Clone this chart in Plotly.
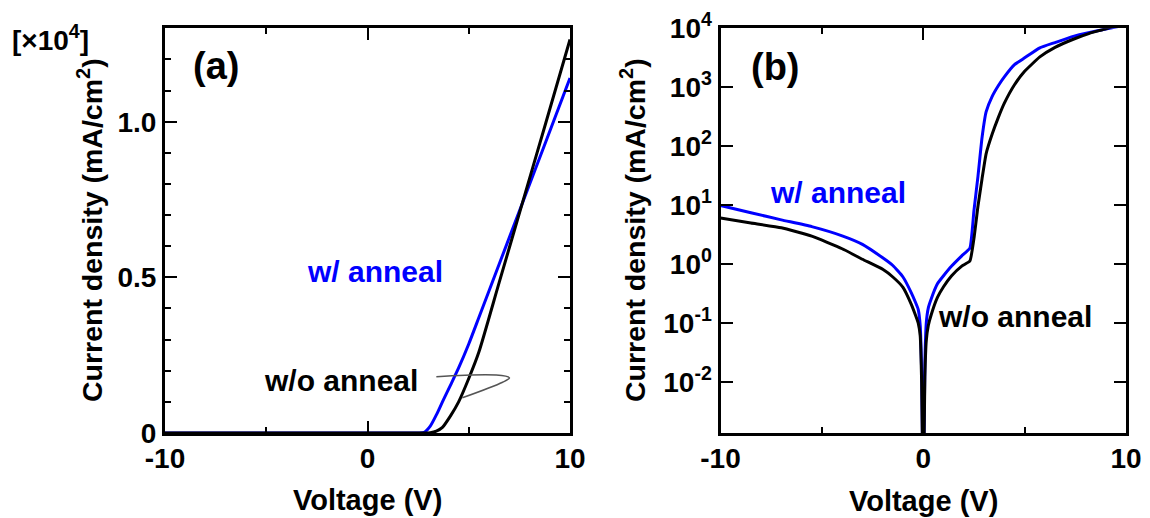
import plotly.graph_objects as go

# ---- (a) linear J-V data, current density in units of 1e4 mA/cm^2 ----
v_lin = [-10, 0, 2.5, 2.8, 3.1, 3.4, 3.7, 4.1, 4.5, 5.0, 5.5, 6.5, 7.6, 8.8, 10]
j_lin_anneal = [0, 0, 0, 0.002, 0.022, 0.058, 0.100, 0.154, 0.209, 0.286, 0.371,
                0.542, 0.730, 0.935, 1.140]
j_lin_noanneal = [0, 0, 0, 0, 0.001, 0.006, 0.018, 0.055, 0.100, 0.175, 0.260,
                  0.483, 0.728, 0.995, 1.264]

# ---- (b) semi-log |J|-V data, mA/cm^2 ----
v_log = [-10, -8.5, -7, -5.5, -4, -3, -2, -1.5, -1, -0.6, -0.4, -0.25, -0.15, -0.08,
         0, 0.08, 0.15, 0.25, 0.4, 0.7, 1.0, 1.4, 1.9, 2.3, 2.5, 2.7, 2.9, 3.1, 3.4,
         3.7, 4.0, 4.5, 5.0, 5.75, 6.5, 7.4, 8.2, 9.0, 10]
j_log_anneal = [9.8, 7.4, 5.6, 4.3, 3.0, 2.15, 1.27, 0.94, 0.60, 0.33, 0.23, 0.17,
                0.09, 0.015, 1e-4, 0.02, 0.10, 0.18, 0.26, 0.46, 0.63, 0.92, 1.37,
                1.85, 8.0, 31, 140, 380, 700, 1060, 1500, 2420, 3150, 4660, 5730,
                7300, 8510, 9700, 11400]
j_log_noanneal = [6.0, 4.95, 4.1, 2.96, 1.81, 1.2, 0.81, 0.60, 0.40, 0.21, 0.14, 0.10,
                  0.06, 0.01, 1e-4, 0.012, 0.05, 0.09, 0.14, 0.27, 0.41, 0.63, 0.92,
                  1.12, 2.7, 9.6, 28, 74, 160, 304, 535, 1100, 1860, 3270, 4750,
                  6520, 8220, 9800, 12640]

# callout loop pointing at the two curves in (a)
callout_v = [3.40, 6.36, 7.01, 6.67, 4.68]
callout_j = [0.181, 0.186, 0.177, 0.163, 0.113]

# tick definitions
x_major = [-10, 0, 10]
x_labels = ["-10", "0", "10"]
x_minor = [-5, 5]
ya_major = [0, 0.5, 1.0]
ya_labels = ["0", "0.5", "1.0"]
ya_minor = [0.1, 0.2, 0.3, 0.4, 0.6, 0.7, 0.8, 0.9, 1.1, 1.2]
yb_major = [1e-2, 1e-1, 1, 10, 100, 1000, 10000]
yb_labels = ["10<sup>-2</sup>", "10<sup>-1</sup>", "10<sup>0</sup>", "10<sup>1</sup>",
             "10<sup>2</sup>", "10<sup>3</sup>", "10<sup>4</sup>"]

BLUE = "#0000ff"
BLACK = "#000000"
FONT = "Liberation Sans, Arial, sans-serif"
W, H = 1150, 518

fig = go.Figure()

line_a = dict(width=3, shape="spline", smoothing=0.6)
fig.add_trace(go.Scatter(x=v_lin, y=j_lin_anneal, mode="lines",
                         line=dict(color=BLUE, **line_a), xaxis="x", yaxis="y"))
fig.add_trace(go.Scatter(x=v_lin, y=j_lin_noanneal, mode="lines",
                         line=dict(color=BLACK, **line_a), xaxis="x", yaxis="y"))
fig.add_trace(go.Scatter(x=callout_v, y=callout_j, mode="lines",
                         line=dict(color="#555555", width=1.5, shape="spline", smoothing=1.0),
                         xaxis="x", yaxis="y"))

line_b = dict(width=3, shape="spline", smoothing=0.4)
fig.add_trace(go.Scatter(x=v_log, y=j_log_anneal, mode="lines",
                         line=dict(color=BLUE, **line_b), xaxis="x2", yaxis="y2"))
fig.add_trace(go.Scatter(x=v_log, y=j_log_noanneal, mode="lines",
                         line=dict(color=BLACK, **line_b), xaxis="x2", yaxis="y2"))

tickfont = dict(family=FONT, size=28, color=BLACK, weight="bold")
common = dict(showline=True, linewidth=3, linecolor=BLACK, mirror="allticks",
              ticks="inside", ticklen=12, tickwidth=2, tickcolor=BLACK,
              showgrid=False, zeroline=False, tickfont=tickfont, automargin=False)
minor_x = dict(tickvals=x_minor, ticks="inside", ticklen=6, tickwidth=2,
               tickcolor=BLACK, showgrid=False)

y0, y1 = 1 - 433 / H, 1 - 28.3 / H
fig.update_layout(
    width=W, height=H,
    margin=dict(l=0, r=0, t=0, b=0, autoexpand=False),
    paper_bgcolor="white", plot_bgcolor="white",
    showlegend=False,
    xaxis=dict(domain=[165 / W, 570 / W], range=[-10, 10], anchor="y",
               tickmode="array", tickvals=x_major, ticktext=x_labels,
               minor=minor_x, ticklabelstandoff=-2, **common),
    yaxis=dict(domain=[y0, y1], range=[0, 1.3], anchor="x",
               tickmode="array", tickvals=ya_major, ticktext=ya_labels,
               minor=dict(tickvals=ya_minor, ticks="inside", ticklen=6, tickwidth=2,
                          tickcolor=BLACK, showgrid=False),
               **common),
    xaxis2=dict(domain=[720.5 / W, 1126 / W], range=[-10, 10], anchor="y2",
                tickmode="array", tickvals=x_major, ticktext=x_labels,
                minor=minor_x, ticklabelstandoff=-2, **common),
    yaxis2=dict(domain=[y0, y1], type="log", range=[-2.87, 4], anchor="x2",
                tickmode="array", tickvals=yb_major, ticktext=yb_labels, **common),
)

def note(text, x, y, size, color=BLACK, xref="paper", yref="paper", angle=0):
    fig.add_annotation(text=text, x=x, y=y, xref=xref, yref=yref, showarrow=False,
                       textangle=angle, xanchor="center", yanchor="middle",
                       font=dict(family=FONT, size=size, color=color, weight="bold"))

# panel labels and in-plot notes
note("(a)", -7.5, 1.18, 38, xref="x", yref="y")
note("w/ anneal", 0.35, 0.52, 30, BLUE, xref="x", yref="y")
note("w/o anneal", -1.3, 0.17, 30, xref="x", yref="y")
note("(b)", -7.27, 3.35, 38, xref="x2", yref="y2")
note("w/ anneal", -4.19, 1.21, 30, BLUE, xref="x2", yref="y2")
note("w/o anneal", 4.54, -0.895, 30, xref="x2", yref="y2")

# axis titles and multiplier
note("[×10<sup>4</sup>]", 50 / W, 1 - 38 / H, 28)
note("Current density (mA/cm<sup>2</sup>)", 90 / W, 1 - 230 / H, 28.5, angle=-90)
note("Current density (mA/cm<sup>2</sup>)", 633 / W, 1 - 230 / H, 28.5, angle=-90)
note("Voltage (V)", 367.5 / W, 1 - 500 / H, 29)
note("Voltage (V)", 923 / W, 1 - 501 / H, 29)

fig.write_html("out.html")
